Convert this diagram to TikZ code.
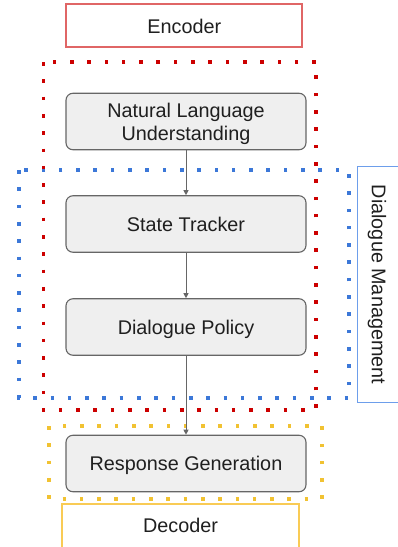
\documentclass[tikz,border=0pt]{standalone}
\usepackage{fontspec}
\setmainfont{Liberation Sans}
\usetikzlibrary{arrows.meta}
\definecolor{boxfill}{HTML}{EFEFEF}
\definecolor{boxline}{HTML}{666666}
\definecolor{encred}{HTML}{E06666}
\definecolor{decyellow}{HTML}{F9CB55}
\definecolor{dmblue}{HTML}{6D9EEB}
\definecolor{dotred}{HTML}{CC0000}
\definecolor{dotblue}{HTML}{3C78D8}
\definecolor{dotyellow}{HTML}{F1C232}
\tikzset{
  txt/.style={font=\fontsize{19.8}{23.3}\selectfont, text height=14.2pt,
    text depth=0pt, inner sep=0pt, text=black!88},
  stage/.style={draw=boxline, fill=boxfill, rounded corners=7pt,
    minimum width=240pt, minimum height=56.5pt, line width=1.1pt, inner sep=0pt},
  dotframe/.style={line width=3.6pt, line cap=butt, dash pattern=on 3.6pt off 13.7pt},
  flow/.style={draw=boxline, line width=1pt,
    -{Triangle[length=5pt,width=5pt]}},
}
\begin{document}
\begin{tikzpicture}[x=1pt,y=-1pt]
\useasboundingbox (0,0) rectangle (398,547);
\clip (0,0) rectangle (398,547);

% group frames
\draw[dotframe, draw=dotblue] (19,170) rectangle (349,398);
\draw[dotframe, draw=dotred] (43.5,62) rectangle (316,410);
\draw[dotframe, draw=dotyellow] (49,426) rectangle (322,499);

% labels of the groups
\draw[draw=encred, line width=1.3pt] (66,4) rectangle (302,47);
\node[txt] (enc) at (184.3,26.2) {Encoder};
\draw[draw=decyellow, line width=1.1pt] (62,504) rectangle (299,560);
\node[txt] (dec) at (180.5,525.8) {Decoder};
\draw[draw=dmblue, line width=1pt] (357.5,166) rectangle (410,402);
\node[txt, rotate=-90] (dm) at (379,284.5) {Dialogue Management};

% pipeline stages
\node[stage] (nlu) at (186,121.5) {};
\node[txt] (nlu1) at (186,110) {Natural Language};
\node[txt] (nlu2) at (186,133.2) {Understanding};
\node[stage] (st) at (186,224) {};
\node[txt] (stt) at (186,224) {State Tracker};
\node[stage] (dp) at (186,327) {};
\node[txt] (dpt) at (186,327) {Dialogue Policy};
\node[stage] (rg) at (186,463.5) {};
\node[txt] (rgt) at (186,463.8) {Response Generation};

% connectors
\draw[flow] (nlu) -- (st);
\draw[flow] (st) -- (dp);
\draw[flow] (dp) -- (rg);
\end{tikzpicture}
\end{document}
